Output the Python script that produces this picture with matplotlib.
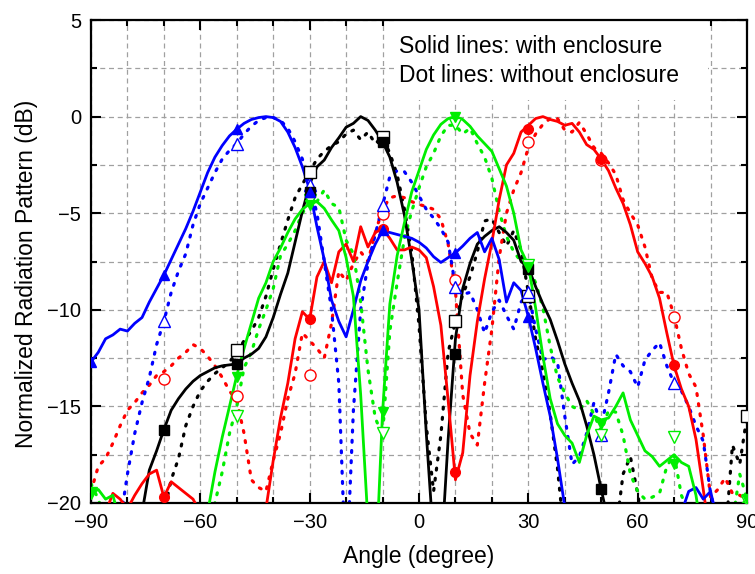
import numpy as np
import matplotlib
matplotlib.use('Agg')
import matplotlib.pyplot as plt
from matplotlib.patches import Rectangle
from matplotlib.ticker import MultipleLocator

plt.rcParams['font.family'] = ['Liberation Sans', 'DejaVu Sans']

# angle grid (2 degree step) and marker angles
angle = np.arange(-90, 91, 2)
mk_angle = np.arange(-90, 91, 20)

# ---- with enclosure (solid) ----
blue_solid = [-12.7, -12.2, -11.5, -11.3, -11.0, -11.1, -10.7, -10.4, -9.6, -8.9,
              -8.2, -7.4, -6.6, -5.8, -4.9, -3.9, -2.9, -2.1, -1.5, -1.0,
              -0.65, -0.35, -0.15, -0.05, 0.0, -0.05, -0.25, -0.8, -1.6, -2.6,
              -3.8, -5.7, -7.4, -9.5, -10.6, -11.4, -10.0, -8.5, -7.5, -6.6,
              -5.9, -6.0, -6.1, -6.2, -6.3, -6.5, -6.8, -7.25, -7.55, -7.3,
              -7.05, -6.7, -6.3, -6.0, -7.0, -6.3, -7.4, -9.6, -8.6, -9.0,
              -10.35, -12.0, -13.8, -15.5, -17.7, -20.2, -22, -23, -24, -25,
              -25, -25, -25, -25, -25, -25, -25, -24, -23, -22,
              -21.5, -20.5, -19.4, -19.2, -19.8, -19.4, -21, -23, -24, -25,
              -25]
black_solid = [-25, -25, -25, -25, -25, -25, -23, -20.5, -18.3, -17.3,
               -16.2, -15.2, -14.6, -14.1, -13.7, -13.4, -13.2, -13.0, -12.9, -12.85,
               -12.8, -12.5, -12.3, -12.0, -11.4, -10.4, -9.2, -8.1, -6.5, -4.9,
               -3.5, -2.6, -2.25, -1.6, -1.1, -0.55, -0.35, 0.0, -0.2, -0.7,
               -1.3, -2.1, -3.4, -5.1, -7.4, -10.0, -16.4, -22, -23, -16.7,
               -11.5, -8.9, -7.6, -6.6, -6.2, -5.9, -5.7, -6.0, -6.4, -7.5,
               -7.8, -8.8, -9.7, -10.5, -11.6, -12.8, -13.8, -14.7, -16.0, -17.5,
               -19.3, -21, -23, -25, -25, -25, -25, -25, -25, -25,
               -25, -25, -25, -25, -25, -25, -25, -25, -25, -25,
               -25]
red_solid = [-22, -21, -20.5, -19.5, -19.8, -20.3, -19.6, -19.0, -18.5, -18.3,
             -19.7, -18.9, -19.2, -19.5, -19.8, -20.5, -22, -24, -25, -25,
             -25, -25, -25, -22, -20.3, -17.8, -15.6, -13.8, -11.5, -10.1,
             -10.5, -8.3, -7.5, -8.6, -7.0, -6.6, -7.5, -5.7, -6.75, -6.0,
             -5.8, -6.3, -6.9, -6.9, -6.75, -6.9, -7.3, -8.8, -10.8, -14.7,
             -18.8, -17.4, -13.4, -10.6, -8.4, -6.5, -4.3, -2.5, -1.9, -0.8,
             -0.45, -0.1, 0.0, -0.15, -0.25, -0.45, -0.35, -0.8, -1.45, -1.7,
             -2.2, -2.8, -3.7, -4.5, -5.6, -7.0, -7.6, -8.3, -9.4, -11.2,
             -12.9, -14.1, -15.0, -16.7, -19.3, -22, -25, -25, -25, -25,
             -25]
green_solid = [-19.5, -19.3, -19.8, -19.6, -21, -23, -25, -25, -25, -25,
               -25, -25, -25, -25, -25, -23, -20.5, -18.4, -16.6, -15.0,
               -13.4, -12.0, -10.7, -9.4, -8.6, -7.5, -6.8, -6.0, -5.3, -4.8,
               -4.5, -4.4, -4.75, -5.35, -5.9, -7.3, -9.3, -14.4, -21, -24,
               -15.3, -9.7, -7.2, -5.5, -3.9, -2.8, -1.7, -0.95, -0.4, -0.1,
               0.0, -0.15, -0.5, -1.0, -1.4, -1.8, -2.7, -3.6, -5.0, -6.9,
               -7.7, -9.9, -12.4, -14.6, -15.9, -16.5, -16.9, -17.9, -16.5, -15.5,
               -15.7, -15.6, -15.0, -14.3, -15.7, -16.5, -17.3, -17.6, -18.1, -17.8,
               -17.5, -17.9, -18.1, -19.6, -22, -25, -25, -23, -21, -20.2,
               -19.8]

# ---- without enclosure (dotted) ----
blue_dot = [-25, -25, -25, -24, -21, -18.5, -16.4, -14.8, -13.5, -11.8,
            -10.6, -9.1, -8.0, -7.1, -5.6, -4.5, -3.7, -2.9, -2.2, -1.75,
            -1.4, -0.9, -0.5, -0.2, -0.05, -0.05, -0.2, -0.6, -1.3, -2.2,
            -3.55, -5.0, -7.5, -10.0, -13.8, -24, -15.2, -10.0, -7.6, -6.1,
            -4.6, -3.1, -2.8, -2.85, -3.4, -4.1, -4.8, -5.25, -5.8, -6.5,
            -8.8, -9.2, -9.1, -10.0, -11.2, -10.1, -9.5, -10.3, -11.0, -9.6,
            -9.1, -11.0, -12.6, -12.4, -12.7, -15.5, -18.0, -17.6, -16.4, -14.8,
            -16.0, -14.3, -12.3, -12.9, -13.2, -14.0, -12.6, -12.1, -11.7, -12.9,
            -13.8, -14.2, -15.0, -16.0, -16.8, -19.5, -21, -23, -24, -25,
            -25]
black_dot = [-25, -25, -25, -25, -25, -25, -25, -25, -24, -22,
             -20.5, -18.8, -17.7, -16.0, -15.0, -14.2, -13.7, -13.3, -13.0, -12.7,
             -12.2, -11.6, -11.1, -10.4, -9.3, -7.9, -6.6, -5.35, -4.2, -3.5,
             -2.85, -2.2, -1.8, -1.5, -1.3, -0.9, -0.7, -1.2, -0.8, -1.4,
             -1.05, -1.9, -3.0, -4.8, -7.0, -10.8, -16.0, -19.4, -16.5, -12.2,
             -10.6, -9.2, -8.3, -7.0, -5.4, -5.3, -6.0, -6.7, -5.9, -6.9,
             -9.1, -11.5, -13.2, -15.4, -18.2, -22, -25, -25, -25, -25,
             -25, -25, -21.5, -18.5, -17.6, -19.5, -22, -25, -25, -25,
             -25, -25, -25, -25, -25, -25, -25, -22, -17.0, -18.0,
             -15.5]
red_dot = [-19.4, -18.1, -17.7, -16.9, -16.0, -15.2, -14.8, -14.3, -13.9, -13.4,
           -13.2, -12.9, -12.5, -12.2, -11.8, -12.0, -12.4, -12.9, -13.5, -14.2,
           -14.7, -16.4, -18.8, -19.2, -19.4, -17.8, -16.4, -14.6, -13.3, -11.2,
           -11.6, -12.0, -12.5, -10.7, -8.0, -8.5, -7.6, -7.0, -7.5, -6.0,
           -4.8, -4.2, -4.1, -4.2, -4.4, -4.55, -4.65, -4.8, -5.3, -6.6,
           -9.0, -14.4, -16.4, -17.0, -13.8, -11.0, -7.3, -5.0, -3.8, -2.9,
           -1.6, -0.9, -0.4, -0.1, -0.1, -0.7, -0.8, -0.3, -0.9, -1.6,
           -1.9, -2.4, -3.0, -4.3, -5.0, -5.6, -6.75, -8.4, -9.1, -9.1,
           -10.3, -12.0, -13.3, -14.0, -16.5, -19.7, -19.3, -18.7, -19.5, -19.6,
           -19.8]
green_dot = [-19.0, -19.8, -21, -23, -25, -25, -25, -25, -25, -25,
             -25, -25, -25, -25, -25, -24, -22, -20.0, -18.4, -16.4,
             -15.0, -13.0, -12.2, -11.0, -10.0, -8.9, -7.2, -6.6, -5.9, -5.0,
             -4.4, -4.4, -3.8, -4.5, -4.7, -6.4, -7.1, -9.6, -13.1, -15.6,
             -16.5, -11.1, -8.6, -6.3, -4.9, -3.7, -2.6, -1.9, -1.0, -0.45,
             -0.45, -0.9, -0.6, -1.4, -2.1, -3.2, -4.9, -6.2, -7.0, -7.5,
             -7.8, -8.6, -9.9, -11.9, -13.5, -14.3, -15.0, -15.2, -14.7, -15.4,
             -16.3, -15.2, -15.3, -16.5, -18.5, -19.4, -19.8, -19.7, -19.5, -18.1,
             -17.5, -19.6, -20.5, -22, -24, -25, -25, -24, -21, -18.5,
             -19.8]

# marker values at -90, -70, ..., 90 (nan = not shown)
nan = np.nan
blue_solid_mk = [-12.7, -8.2, -0.65, -3.9, -5.85, -7.05, -10.35, nan, nan, nan]
black_solid_mk = [nan, -16.2, -12.8, -3.9, -1.3, -12.3, -7.9, -19.3, nan, nan]
red_solid_mk = [nan, -19.7, nan, -10.5, -5.8, -18.4, -0.65, -2.2, -12.85, nan]
green_solid_mk = [-19.5, nan, -13.5, -4.6, -15.3, 0.0, -7.8, -15.9, -18.0, -19.8]
blue_dot_mk = [nan, -10.6, -1.4, -3.55, -4.6, -8.8, -9.1, -16.5, -13.8, nan]
black_dot_mk = [nan, nan, -12.1, -2.85, -1.05, -10.6, -9.3, nan, nan, -15.5]
red_dot_mk = [nan, -13.6, -14.45, -13.4, -5.05, -8.45, -1.3, -2.25, -10.35, nan]
green_dot_mk = [-19.5, nan, -15.5, -4.3, -16.4, -0.4, -7.7, -16.5, -16.6, -19.9]

fig = plt.figure(figsize=(7.55, 5.74), dpi=100)
ax = fig.add_axes([91 / 755, 1 - 503 / 574, 656 / 755, 483 / 574])

dot_style = (0, (0.6, 2.6))
curves = [
    ('black', 's', black_dot, black_dot_mk, black_solid, black_solid_mk),
    ('#ff0000', 'o', red_dot, red_dot_mk, red_solid, red_solid_mk),
    ('#0000ff', '^', blue_dot, blue_dot_mk, blue_solid, blue_solid_mk),
    ('#00ee00', 'v', green_dot, green_dot_mk, green_solid, green_solid_mk),
]
for col, mk, yd, yd_mk, ys, ys_mk in curves:
    ax.plot(angle, yd, color=col, lw=2.3, linestyle=dot_style,
            dash_capstyle='round', zorder=2)
    ax.plot(mk_angle, yd_mk, linestyle='none', marker=mk, ms=8,
            markerfacecolor='white', markeredgecolor=col, mew=1.0, zorder=4)
for col, mk, yd, yd_mk, ys, ys_mk in curves:
    ax.plot(angle, ys, color=col, lw=2.0, zorder=3)
    ax.plot(mk_angle, ys_mk, linestyle='none', marker=mk, ms=7,
            color=col, zorder=4)

ax.set_xlim(-90, 90)
ax.set_ylim(-20, 5)
ax.xaxis.set_major_locator(MultipleLocator(30))
ax.xaxis.set_minor_locator(MultipleLocator(10))
ax.yaxis.set_major_locator(MultipleLocator(5))
ax.yaxis.set_minor_locator(MultipleLocator(2.5))
ax.grid(which='both', color='#a0a0a0', linestyle=(0, (4, 3)), lw=0.9)
ax.set_axisbelow(True)
ax.tick_params(which='both', direction='in', top=True, right=True,
               labelsize=14.5, width=1.5)
ax.tick_params(which='major', length=7, pad=7)
ax.tick_params(which='minor', length=4)
for s in ax.spines.values():
    s.set_linewidth(1.6)

# axis titles placed by figure position
fig.text(419 / 755, 1 - 556 / 574, 'Angle (degree)', fontsize=16.5,
         ha='center', va='center')
fig.text(27 / 755, 1 - 274 / 574, 'Normalized Radiation Pattern (dB)',
         fontsize=16.5, rotation=90, ha='center', va='center')

# white box behind the note
ax.add_patch(Rectangle((0.463, 0.834), 0.477, 0.166, transform=ax.transAxes,
                       facecolor='white', edgecolor='none', zorder=1))
ax.text(0.469, 0.968, 'Solid lines: with enclosure\nDot lines: without enclosure',
        transform=ax.transAxes, ha='left', va='top', fontsize=16.5,
        linespacing=1.3, zorder=5)

fig.savefig('out.png', dpi=100)
